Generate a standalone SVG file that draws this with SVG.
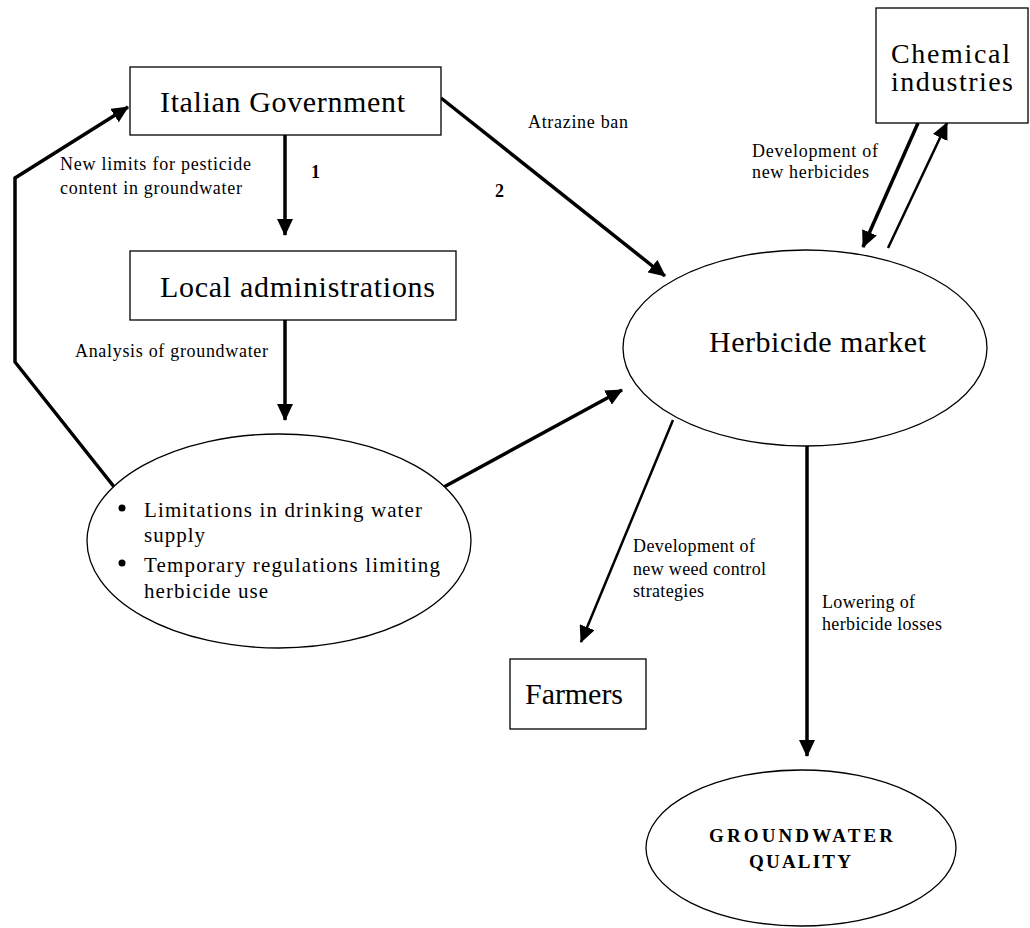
<svg xmlns="http://www.w3.org/2000/svg" width="1030" height="928" viewBox="0 0 1030 928">
<style>
text{font-family:"Liberation Serif","Times New Roman",serif;fill:#000}
.big{font-size:30px}
.chem{font-size:28px}
.sm{font-size:18px}
.gq{font-size:19px;font-weight:bold}
.bul{font-size:21px}
.bold{font-weight:bold}
.node{fill:#fff;stroke:#000;stroke-width:1.3}
.c3{fill:none;stroke:#000;stroke-width:3.5}
.c2{fill:none;stroke:#000;stroke-width:2.5}
</style>
<defs>
<marker id="ah" markerUnits="userSpaceOnUse" markerWidth="17" markerHeight="16" refX="16" refY="8" orient="auto">
<path d="M0,0 L17,8 L0,16 z" fill="#000"/>
</marker>
</defs>
<rect width="1030" height="928" fill="#fff"/>

<g id="connectors">
<path class="c3" d="M285,135 L285,235" marker-end="url(#ah)"/>
<path class="c3" d="M285,320 L285,420" marker-end="url(#ah)"/>
<path class="c3" d="M115,488 L15,362 L15,178 L128,107" marker-end="url(#ah)"/>
<path class="c3" d="M441,98 L665,276" marker-end="url(#ah)"/>
<path class="c3" d="M442,488 L622,390" marker-end="url(#ah)"/>
<path class="c3" d="M918,123 L863,247" marker-end="url(#ah)"/>
<path class="c2" d="M888,248 L947,123" marker-end="url(#ah)"/>
<path class="c2" d="M673,420 L581,642" marker-end="url(#ah)"/>
<path class="c3" d="M807,446 L807,756" marker-end="url(#ah)"/>
<text class="sm bold" x="311" y="178">1</text>
<text class="sm bold" x="495" y="197">2</text>
<text class="sm" x="60" y="170" textLength="191" lengthAdjust="spacing">New limits for pesticide</text>
<text class="sm" x="60" y="194" textLength="182" lengthAdjust="spacing">content in groundwater</text>
<text class="sm" x="75" y="357" textLength="193" lengthAdjust="spacing">Analysis of groundwater</text>
<text class="sm" x="528" y="128" textLength="100" lengthAdjust="spacing">Atrazine ban</text>
<text class="sm" x="752" y="157" textLength="126" lengthAdjust="spacing">Development of</text>
<text class="sm" x="752" y="178" textLength="117" lengthAdjust="spacing">new herbicides</text>
<text class="sm" x="633" y="552" textLength="122" lengthAdjust="spacing">Development of</text>
<text class="sm" x="633" y="575" textLength="133" lengthAdjust="spacing">new weed control</text>
<text class="sm" x="633" y="597" textLength="71" lengthAdjust="spacing">strategies</text>
<text class="sm" x="822" y="608" textLength="93" lengthAdjust="spacing">Lowering of</text>
<text class="sm" x="822" y="630" textLength="120" lengthAdjust="spacing">herbicide losses</text>
</g>

<g id="italian-government">
<rect class="node" x="130" y="67" width="311" height="68"/>
<text class="big" x="160" y="112" textLength="245" lengthAdjust="spacing">Italian Government</text>
</g>

<g id="local-administrations">
<rect class="node" x="130" y="251" width="326" height="69"/>
<text class="big" x="160" y="297" textLength="275" lengthAdjust="spacing">Local administrations</text>
</g>

<g id="limitations">
<ellipse class="node" cx="279" cy="541" rx="192" ry="107"/>
<circle cx="122" cy="508" r="3.5" fill="#000"/>
<circle cx="122" cy="563" r="3.5" fill="#000"/>
<text class="bul" x="144" y="517" textLength="278" lengthAdjust="spacing">Limitations in drinking water</text>
<text class="bul" x="144" y="542" textLength="61" lengthAdjust="spacing">supply</text>
<text class="bul" x="144" y="572" textLength="296" lengthAdjust="spacing">Temporary regulations limiting</text>
<text class="bul" x="144" y="598" textLength="124" lengthAdjust="spacing">herbicide use</text>
</g>

<g id="herbicide-market">
<ellipse class="node" cx="805" cy="348" rx="182" ry="98"/>
<text class="big" x="709" y="352" textLength="217" lengthAdjust="spacing">Herbicide market</text>
</g>

<g id="chemical-industries">
<rect class="node" x="876" y="8" width="152" height="115"/>
<text class="chem" x="891" y="63" textLength="119" lengthAdjust="spacing">Chemical</text>
<text class="chem" x="891" y="91" textLength="122" lengthAdjust="spacing">industries</text>
</g>

<g id="farmers">
<rect class="node" x="510" y="659" width="136" height="70"/>
<text class="big" x="525" y="704" textLength="98" lengthAdjust="spacing">Farmers</text>
</g>

<g id="groundwater-quality">
<ellipse class="node" cx="801" cy="848" rx="155" ry="78"/>
<text class="gq" x="709" y="842" textLength="184" lengthAdjust="spacing">GROUNDWATER</text>
<text class="gq" x="749" y="868" textLength="102" lengthAdjust="spacing">QUALITY</text>
</g>
</svg>
